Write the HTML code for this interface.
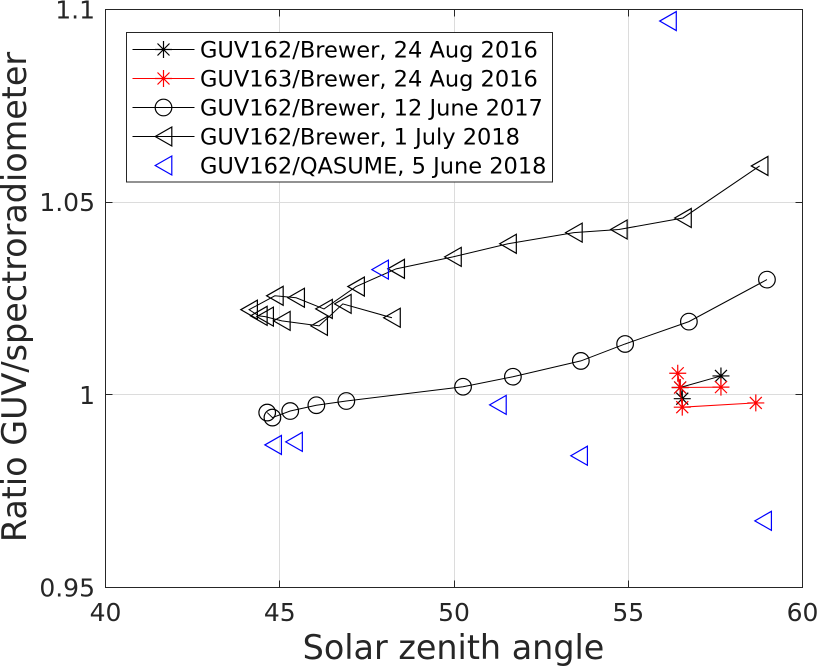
<!DOCTYPE html>
<html lang="en">
<head>
<meta charset="utf-8">
<title>Ratio GUV/spectroradiometer vs solar zenith angle</title>
<style>
html,body{margin:0;padding:0;background:#fff;}
svg{display:block;font-family:"DejaVu Sans",sans-serif;}
</style>
</head>
<body>
<svg id="chart" width="818" height="667" viewBox="0 0 818 667" xmlns="http://www.w3.org/2000/svg">
  <rect x="0" y="0" width="818" height="667" fill="#fff"/>
  <g id="grid"></g>
  <g id="series"></g>
  <g id="axes"></g>
  <text x="453.5" y="659" font-size="33.4" fill="#262626" text-anchor="middle">Solar zenith angle</text>
  <text transform="translate(26,297) rotate(-90)" font-size="33.4" fill="#262626" text-anchor="middle">Ratio GUV/spectroradiometer</text>
  <g id="legend"></g>
</svg>
<script>
const xTicks = [40, 45, 50, 55, 60];
const xTickLabels = ["40", "45", "50", "55", "60"];
const yTicks = [0.95, 1, 1.05, 1.1];
const yTickLabels = ["0.95", "1", "1.05", "1.1"];

const seriesNames = [
  "GUV162/Brewer, 24 Aug 2016",
  "GUV163/Brewer, 24 Aug 2016",
  "GUV162/Brewer, 12 June 2017",
  "GUV162/Brewer, 1 July 2018",
  "GUV162/QASUME, 5 June 2018"
];

const star162X = [57.66, 56.49, 56.55];
const star162Y = [1.0049, 1.0019, 0.9990];

const star163X = [58.66, 56.55, 56.42, 56.49, 57.66];
const star163Y = [0.9979, 0.9968, 1.0056, 1.0019, 1.0020];

const circleX = [58.98, 56.74, 54.91, 53.64, 51.69, 50.26, 46.91, 46.05, 45.30, 44.79, 44.64];
const circleY = [1.0299, 1.0190, 1.0132, 1.0088, 1.0047, 1.0021, 0.9984, 0.9973, 0.9958, 0.9941, 0.9954];

const triX = [58.77, 56.57, 54.73, 53.44, 51.55, 49.97, 48.34, 47.19, 46.27, 45.47, 44.86, 44.12, 44.40, 44.58, 45.06, 46.13, 46.81, 48.22];
const triY = [1.0594, 1.0459, 1.0429, 1.0421, 1.0392, 1.0358, 1.0327, 1.0281, 1.0223, 1.0252, 1.0257, 1.0221, 1.0205, 1.0203, 1.0192, 1.0179, 1.0236, 1.0200];

const qasumeX = [56.14, 47.88, 51.26, 44.81, 45.41, 53.59, 58.87];
const qasumeY = [1.0970, 1.0325, 0.9974, 0.9870, 0.9878, 0.9842, 0.9673];

const NS = "http://www.w3.org/2000/svg";
const plotLeft = 105.5, plotRight = 802.5, plotTop = 9.5, plotBottom = 587.5;
const xMin = 40, xMax = 60, yMin = 0.95, yMax = 1.1;

function sx(v) { return plotLeft + (v - xMin) / (xMax - xMin) * (plotRight - plotLeft); }
function sy(v) { return plotBottom - (v - yMin) / (yMax - yMin) * (plotBottom - plotTop); }
function crisp(p) { return Math.floor(p) + 0.5; }

function mk(tag, parent, attrs) {
  const el = document.createElementNS(NS, tag);
  for (const k in attrs) el.setAttribute(k, attrs[k]);
  parent.appendChild(el);
  return el;
}

function drawMarker(parent, kind, cx, cy, color) {
  const g = mk("g", parent, { fill: "none", stroke: color, "stroke-width": 1.2 });
  if (kind === "star") {
    const h = 8.5, d = 6;
    const p = mk("path", g, { d: "M" + (cx - h) + " " + cy + "H" + (cx + h) + "M" + cx + " " + (cy - h) + "V" + (cy + h) +
      "M" + (cx - d) + " " + (cy - d) + "L" + (cx + d) + " " + (cy + d) + "M" + (cx - d) + " " + (cy + d) + "L" + (cx + d) + " " + (cy - d) });
    
    
  } else if (kind === "circle") {
    const c = mk("circle", g, { cx: cx, cy: cy, r: 8.3 });
    
    
  } else {
    const t = mk("path", g, { d: "M" + (cx - 8.3) + " " + cy + "L" + (cx + 8.3) + " " + (cy - 9.5) + "V" + (cy + 9.5) + "Z" });
    
    
  }
  return g;
}

const gridG = document.getElementById("grid");
const axesG = document.getElementById("axes");
const seriesG = document.getElementById("series");
const legendG = document.getElementById("legend");

xTicks.forEach(function (t, i) {
  const x = sx(t);
  if (i > 0 && i < xTicks.length - 1) {
    const gx = crisp(x);
    const gl = mk("line", gridG, { x1: gx, x2: gx, y1: plotTop, y2: plotBottom, stroke: "#dcdcdc", "stroke-width": 1 });
    
    
    const tk1 = mk("line", axesG, { x1: gx, x2: gx, y1: plotBottom, y2: plotBottom - 7, stroke: "#262626", "stroke-width": 1 });
    
    
    const tk2 = mk("line", axesG, { x1: gx, x2: gx, y1: plotTop, y2: plotTop + 7, stroke: "#262626", "stroke-width": 1 });
    
    
  }
  const lb = mk("text", axesG, { x: x, y: 621, "font-size": 25, fill: "#262626", "text-anchor": "middle" });
  
  
  lb.textContent = xTickLabels[i];
});

yTicks.forEach(function (t, i) {
  const y = sy(t);
  if (i > 0 && i < yTicks.length - 1) {
    const gy = crisp(y);
    const gl = mk("line", gridG, { x1: plotLeft, x2: plotRight, y1: gy, y2: gy, stroke: "#dcdcdc", "stroke-width": 1 });
    
    
    const tk1 = mk("line", axesG, { x1: plotLeft, x2: plotLeft + 7, y1: gy, y2: gy, stroke: "#262626", "stroke-width": 1 });
    
    
    const tk2 = mk("line", axesG, { x1: plotRight, x2: plotRight - 7, y1: gy, y2: gy, stroke: "#262626", "stroke-width": 1 });
    
    
  }
  const lb = mk("text", axesG, { x: 95, y: y + 9, "font-size": 25, fill: "#262626", "text-anchor": "end" });
  
  
  lb.textContent = yTickLabels[i];
});

const box = mk("rect", axesG, { x: plotLeft, y: plotTop, width: plotRight - plotLeft, height: plotBottom - plotTop, fill: "none", stroke: "#262626", "stroke-width": 1 });



function drawSeries(name, xs, ys, color, kind, withLine) {
  const g = mk("g", seriesG, {});
  
  
  if (withLine) {
    const pts = xs.map(function (v, i) { return sx(v) + "," + sy(ys[i]); }).join(" ");
    const pl = mk("polyline", g, { points: pts, fill: "none", stroke: color, "stroke-width": 1 });
    
    
  }
  xs.forEach(function (v, i) { drawMarker(g, kind, sx(v), sy(ys[i]), color); });
}

drawSeries("series-guv162-aug-2016", star162X, star162Y, "#000", "star", true);
drawSeries("series-guv163-aug-2016", star163X, star163Y, "#f00", "star", true);
drawSeries("series-guv162-june-2017", circleX, circleY, "#000", "circle", true);
drawSeries("series-guv162-july-2018", triX, triY, "#000", "tri", true);
drawSeries("series-guv162-qasume-2018", qasumeX, qasumeY, "#00f", "tri", false);

const legendBox = mk("rect", legendG, { x: 126.5, y: 32.5, width: 426, height: 149.5, fill: "#fff", stroke: "#262626", "stroke-width": 1 });



const legendColors = ["#000", "#f00", "#000", "#000", "#00f"];
const legendKinds = ["star", "star", "circle", "tri", "tri"];
const legendLined = [true, true, true, true, false];

seriesNames.forEach(function (nm, i) {
  const y = 49 + i * 29;
  const entry = mk("g", legendG, {});
  
  
  if (legendLined[i]) {
    const ln = mk("line", entry, { x1: 132.5, x2: 194.5, y1: y + 0.5, y2: y + 0.5, stroke: legendColors[i], "stroke-width": 1 });
    
    
  }
  drawMarker(entry, legendKinds[i], 163.5, y + 0.5, legendColors[i]);
  const tx = mk("text", entry, { x: 200, y: y + 8.5, "font-size": 22.5, fill: "#000" });
  
  
  tx.textContent = nm;
});
</script>
</body>
</html>
